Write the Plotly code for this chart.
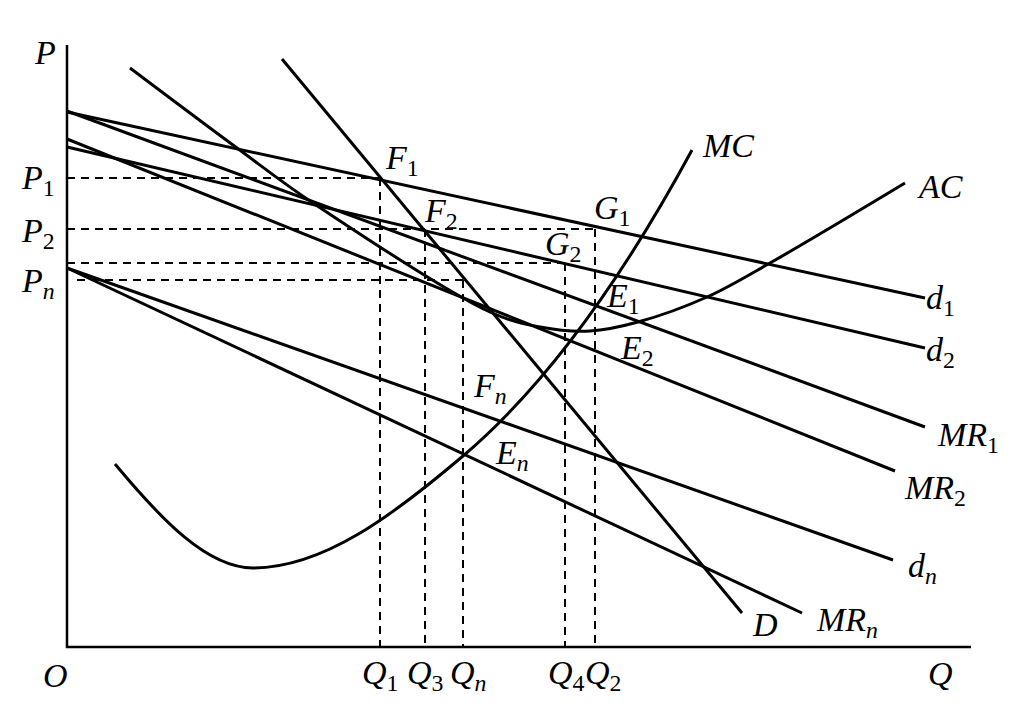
import plotly.graph_objects as go

# ---- data (economic coordinates: Q horizontal, P vertical) ----
d1_q = [0, 858]
d1_p = [535, 349]
d2_q = [0, 858]
d2_p = [500, 299]
mr1_q = [0, 858]
mr1_p = [536, 220]
mr2_q = [0, 828]
mr2_p = [508, 176]
dn_q = [0, 826]
dn_p = [379, 87]
mrn_q = [0, 735]
mrn_p = [379, 34]
D_q = [215, 675]
D_p = [588, 34]

mc_q = [48, 186, 396, 625]
mc_p = [183, 79, 191, 497]
mc_slope = [-1.2, 0.0, 0.85, 1.85]

ac_q = [63, 170, 246, 423, 473, 523, 571, 640, 703, 838]
ac_p = [579, 499, 444, 335, 320, 316, 325, 350, 384, 464]

# dashed guides: price level, start q, end q
price_levels = [469, 418, 384, 367]
price_start = [0, 0, 0, 10]
price_end = [313, 528, 498, 396]
# vertical guides: quantity, top price
qty_levels = [313, 358, 396, 498, 528]
qty_top = [469, 418, 367, 384, 418]

axis_q_max = 904
axis_p_max = 602

labels = [
    ("<i>P</i>", -22, 595),
    ("<i>P</i><sub>1</sub>", -29, 467),
    ("<i>P</i><sub>2</sub>", -29, 414),
    ("<i>P</i><sub><i>n</i></sub>", -29, 364),
    ("<i>O</i>", -12, -28),
    ("<i>Q</i>", 873, -26),
    ("<i>Q</i><sub>1</sub>", 313, -28),
    ("<i>Q</i><sub>3</sub>", 358, -28),
    ("<i>Q</i><sub><i>n</i></sub>", 401, -28),
    ("<i>Q</i><sub>4</sub>", 499, -28),
    ("<i>Q</i><sub>2</sub>", 536, -28),
    ("<i>F</i><sub>1</sub>", 335, 487),
    ("<i>F</i><sub>2</sub>", 374, 434),
    ("<i>G</i><sub>1</sub>", 545, 437),
    ("<i>G</i><sub>2</sub>", 496, 401),
    ("<i>E</i><sub>1</sub>", 556, 349),
    ("<i>E</i><sub>2</sub>", 570, 297),
    ("<i>F</i><sub><i>n</i></sub>", 423, 259),
    ("<i>E</i><sub><i>n</i></sub>", 445, 192),
    ("<i>MC</i>", 661, 502),
    ("<i>AC</i>", 873, 461),
    ("<i>d</i><sub>1</sub>", 873, 347),
    ("<i>d</i><sub>2</sub>", 873, 295),
    ("<i>MR</i><sub>1</sub>", 901, 210),
    ("<i>MR</i><sub>2</sub>", 868, 157),
    ("<i>d</i><sub><i>n</i></sub>", 855, 79),
    ("<i>D</i>", 698, 23),
    ("<i>MR</i><sub><i>n</i></sub>", 780, 25),
]

# ---- figure ----
fig = go.Figure()
solid = dict(color="black", width=3)
dash = dict(color="black", width=2, dash="8px,6px")

# axes
fig.add_trace(go.Scatter(x=[0, 0, axis_q_max], y=[axis_p_max, 0, 0], mode="lines",
                         line=dict(color="black", width=2.5)))

for q, p in [(d1_q, d1_p), (d2_q, d2_p), (mr1_q, mr1_p), (mr2_q, mr2_p),
             (dn_q, dn_p), (mrn_q, mrn_p), (D_q, D_p)]:
    fig.add_trace(go.Scatter(x=q, y=p, mode="lines", line=solid))

# MC as a smooth cubic Bezier path through its anchors (data coordinates)
path = f"M {mc_q[0]},{mc_p[0]}"
for i in range(len(mc_q) - 1):
    h = (mc_q[i + 1] - mc_q[i]) / 3.0
    c1 = (mc_q[i] + h, mc_p[i] + h * mc_slope[i])
    c2 = (mc_q[i + 1] - h, mc_p[i + 1] - h * mc_slope[i + 1])
    path += f" C {c1[0]},{c1[1]} {c2[0]},{c2[1]} {mc_q[i + 1]},{mc_p[i + 1]}"
fig.add_shape(type="path", path=path, xref="x", yref="y",
              line=dict(color="black", width=3))

fig.add_trace(go.Scatter(x=ac_q, y=ac_p, mode="lines", line=dict(solid, shape="spline", smoothing=1.0)))

for lvl, s, e in zip(price_levels, price_start, price_end):
    fig.add_trace(go.Scatter(x=[s, e], y=[lvl, lvl], mode="lines", line=dash))
for q, top in zip(qty_levels, qty_top):
    fig.add_trace(go.Scatter(x=[q, q], y=[top, 0], mode="lines", line=dash))

for txt, x, y in labels:
    fig.add_annotation(x=x, y=y, text=txt, showarrow=False,
                       font=dict(family="Liberation Serif", size=34, color="black"),
                       xanchor="center", yanchor="middle")

# the page body has an 8px margin; size the figure so that it fills the window
fig.update_layout(
    width=1023, height=705,
    margin=dict(l=0, r=0, t=0, b=0),
    paper_bgcolor="white", plot_bgcolor="white",
    showlegend=False,
    xaxis=dict(range=[-59, 964], visible=False, fixedrange=True),
    yaxis=dict(range=[-66, 639], visible=False, fixedrange=True),
)

fig.write_html("out.html")
